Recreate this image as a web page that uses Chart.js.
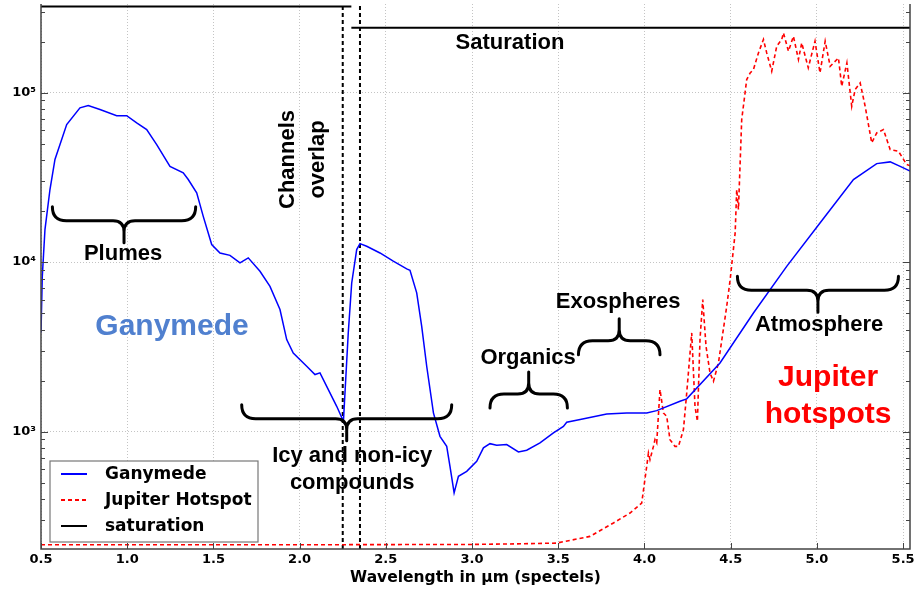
<!DOCTYPE html>
<html>
<head>
<meta charset="utf-8">
<script src="https://cdn.jsdelivr.net/npm/chart.js@4"></script>
<style>
  html, body { margin: 0; padding: 0; background: #fff; }
  #chart { display: block; }
</style>
</head>
<body>
<canvas id="chart" width="914" height="589"></canvas>
<script>
// wavelength (µm) / counts
const ganymedeX = [0.5, 0.5075, 0.523, 0.552, 0.581, 0.649, 0.726, 0.774, 0.842, 0.939, 0.997, 1.055, 1.113, 1.171, 1.248, 1.325, 1.354, 1.403, 1.441, 1.49, 1.538, 1.596, 1.654, 1.702, 1.77, 1.828, 1.886, 1.925, 1.963, 2.041, 2.089, 2.118, 2.157, 2.215, 2.254, 2.282, 2.302, 2.331, 2.35, 2.389, 2.466, 2.543, 2.621, 2.64, 2.679, 2.708, 2.737, 2.776, 2.814, 2.853, 2.872, 2.896, 2.921, 2.969, 3.027, 3.066, 3.104, 3.143, 3.201, 3.269, 3.317, 3.394, 3.472, 3.53, 3.549, 3.627, 3.781, 3.897, 4.013, 4.071, 4.206, 4.245, 4.438, 4.632, 4.825, 5.018, 5.212, 5.347, 5.425, 5.483, 5.541];
const ganymedeY = [3840, 8240, 15560, 26800, 40300, 64700, 81300, 83750, 79400, 73100, 73100, 66200, 60500, 49300, 36700, 33600, 30700, 25600, 18600, 12700, 11300, 10960, 9890, 10590, 8830, 7190, 5250, 3490, 2910, 2430, 2170, 2220, 1850, 1410, 1150, 3820, 7530, 11860, 12850, 12390, 11320, 10120, 9120, 8950, 6580, 4180, 2430, 1290, 938, 818, 624, 435, 545, 583, 668, 802, 849, 830, 838, 759, 776, 857, 982, 1074, 1135, 1178, 1271, 1288, 1288, 1330, 1510, 1560, 2540, 5010, 9440, 17020, 30700, 38100, 39000, 36700, 34400];

const hotspotX = [0.5, 2.0, 3.0, 3.3, 3.491, 3.684, 3.82, 3.916, 3.984, 4.013, 4.023, 4.032, 4.052, 4.061, 4.071, 4.09, 4.11, 4.129, 4.148, 4.177, 4.197, 4.226, 4.245, 4.274, 4.293, 4.307, 4.322, 4.338, 4.357, 4.38, 4.4, 4.429, 4.477, 4.497, 4.526, 4.535, 4.545, 4.564, 4.593, 4.613, 4.632, 4.661, 4.69, 4.709, 4.738, 4.767, 4.796, 4.806, 4.835, 4.864, 4.893, 4.912, 4.95, 4.989, 5.018, 5.048, 5.077, 5.125, 5.144, 5.174, 5.202, 5.222, 5.251, 5.28, 5.318, 5.347, 5.386, 5.425, 5.473, 5.521, 5.55];
const hotspotY = [215, 215, 216, 218, 220, 241, 289, 331, 379, 624, 748, 684, 818, 897, 857, 1770, 1288, 1230, 897, 818, 818, 1028, 1690, 3820, 1410, 1150, 3490, 6010, 3180, 2220, 1980, 2540, 5480, 7890, 14860, 26800, 20420, 69300, 119400, 130600, 136800, 171400, 205600, 171400, 133700, 187500, 205600, 224900, 175400, 214800, 156700, 196300, 140000, 200900, 130600, 200900, 142900, 160000, 108900, 149600, 83000, 104200, 114000, 83000, 50500, 57800, 60500, 46100, 45100, 37600, 36700];

const saturationX = [0.5, 2.3, 2.3, 2.3, 5.54];
const saturationY = [322000, 322000, null, 241000, 241000];

const overlapX = [2.25, 2.35];

const xRange = [0.5, 5.54];
const yRange = [203, 333000];
const xTicks = [0.5, 1.0, 1.5, 2.0, 2.5, 3.0, 3.5, 4.0, 4.5, 5.0, 5.5];
const yTicks = [1000, 10000, 100000];
const yTickLabels = ['10³', '10⁴', '10⁵'];

const seriesNames = ['Ganymede', 'Jupiter Hotspot', 'saturation'];

// braces: [x from, x to, y at the ends, direction (1 = tip down, -1 = tip up)]
const braces = [
    [0.566, 1.397, 21200, 1],
    [1.664, 2.882, 1440, 1],
    [3.104, 3.553, 1380, -1],
    [3.617, 4.09, 2840, -1],
    [4.539, 5.473, 8240, 1]
];
// labels: [text, x, y, colour, size, rotated]
const notes = [
    ['Plumes', 0.976, 11200, '#000', 22, false],
    ['Icy and non-icy', 2.305, 722, '#000', 22, false],
    ['compounds', 2.305, 500, '#000', 22, false],
    ['Organics', 3.325, 2730, '#000', 22, false],
    ['Exospheres', 3.847, 5850, '#000', 22, false],
    ['Atmosphere', 5.013, 4280, '#000', 22, false],
    ['Saturation', 3.22, 197000, '#000', 22, false],
    ['Channels', 1.933, 40300, '#000', 22, true],
    ['overlap', 2.107, 40300, '#000', 22, true],
    ['Ganymede', 1.26, 4160, '#5080cf', 30, false],
    ['Jupiter', 5.065, 2080, '#ff0000', 30, false],
    ['hotspots', 5.065, 1260, '#ff0000', 30, false]
];

function pts(xs, ys) {
    return xs.map((x, i) => ({ x: x, y: ys[i] }));
}

const TEXT_FONT = '"Liberation Sans", Arial, sans-serif';
const TICK_FONT = '"DejaVu Sans", sans-serif';

const overlay = {
    id: 'overlay',
    afterDatasetsDraw(chart) {
        const { ctx, chartArea: a, scales } = chart;
        const x = scales.x, y = scales.y;
        ctx.save();
        // frame
        ctx.strokeStyle = '#444';
        ctx.lineWidth = 1.5;
        ctx.beginPath();
        ctx.moveTo(a.left, a.top);
        ctx.lineTo(a.left, a.bottom);
        ctx.lineTo(a.right, a.bottom);
        ctx.lineTo(a.right, a.top);
        ctx.stroke();

        // log minor ticks, inside both sides
        ctx.lineWidth = 1;
        ctx.beginPath();
        for (let d = 100; d < 1e6; d *= 10) {
            for (let m = 1; m < 10; m++) {
                const v = d * m;
                if (v < yRange[0] || v > yRange[1]) continue;
                const py = Math.round(y.getPixelForValue(v)) + 0.5;
                const len = m === 1 ? 7 : 4;
                ctx.moveTo(a.left, py); ctx.lineTo(a.left + len, py);
                ctx.moveTo(a.right, py); ctx.lineTo(a.right - len, py);
            }
        }
        xTicks.forEach(v => {
            const px = Math.round(x.getPixelForValue(v)) + 0.5;
            ctx.moveTo(px, a.bottom); ctx.lineTo(px, a.bottom - 6);
        });
        ctx.stroke();

        // braces
        ctx.strokeStyle = '#000';
        ctx.lineWidth = 3;
        ctx.lineCap = 'round';
        braces.forEach(b => {
            const x1 = x.getPixelForValue(b[0]);
            const x2 = x.getPixelForValue(b[1]);
            const y0 = y.getPixelForValue(b[2]);
            const s = b[3];
            const yb = y0 + s * 14;
            const tip = yb + s * 22;
            const xm = (x1 + x2) / 2;
            const r = 14, rc = 11;
            ctx.beginPath();
            ctx.moveTo(x1, y0);
            ctx.quadraticCurveTo(x1, yb, x1 + r, yb);
            ctx.lineTo(xm - rc, yb);
            ctx.quadraticCurveTo(xm, yb, xm, yb + s * rc);
            ctx.lineTo(xm, tip);
            ctx.moveTo(xm, yb + s * rc);
            ctx.quadraticCurveTo(xm, yb, xm + rc, yb);
            ctx.lineTo(x2 - r, yb);
            ctx.quadraticCurveTo(x2, yb, x2, y0);
            ctx.stroke();
        });

        // text notes
        ctx.textAlign = 'center';
        ctx.textBaseline = 'middle';
        notes.forEach(n => {
            const px = x.getPixelForValue(n[1]);
            const py = y.getPixelForValue(n[2]);
            ctx.fillStyle = n[3];
            ctx.font = 'bold ' + n[4] + 'px ' + TEXT_FONT;
            if (n[5]) {
                ctx.save();
                ctx.translate(px, py);
                ctx.rotate(-Math.PI / 2);
                ctx.fillText(n[0], 0, 0);
                ctx.restore();
            } else {
                ctx.fillText(n[0], px, py);
            }
        });

        // legend box, lower left of the plot
        const lx = a.left + 9, ly = a.bottom - 88, lw = 208, lh = 81;
        ctx.fillStyle = '#fff';
        ctx.fillRect(lx, ly, lw, lh);
        ctx.strokeStyle = '#777';
        ctx.lineWidth = 1.2;
        ctx.lineCap = 'butt';
        ctx.strokeRect(lx, ly, lw, lh);
        ctx.font = 'bold 17px ' + TICK_FONT;
        ctx.textAlign = 'left';
        ctx.fillStyle = '#000';
        chart.data.datasets.slice(0, 3).forEach((ds, i) => {
            const ry = ly + 13 + i * 26;
            ctx.strokeStyle = ds.borderColor;
            ctx.lineWidth = 2;
            ctx.setLineDash(ds.borderDash || []);
            ctx.beginPath();
            ctx.moveTo(lx + 11, ry);
            ctx.lineTo(lx + 37, ry);
            ctx.stroke();
            ctx.setLineDash([]);
            ctx.fillText(seriesNames[i], lx + 55, ry + 1);
        });
        ctx.restore();
    }
};

const overlapSets = overlapX.map(v => ({
    label: 'overlap',
    data: [{ x: v, y: yRange[0] }, { x: v, y: yRange[1] }],
    borderColor: '#000',
    borderWidth: 2,
    borderDash: [4, 3],
    pointRadius: 0
}));

new Chart(document.getElementById('chart'), {
    type: 'line',
    data: {
        datasets: [{
            label: seriesNames[0],
            data: pts(ganymedeX, ganymedeY),
            borderColor: '#0000ff',
            borderWidth: 1.5,
            pointRadius: 0,
            tension: 0
        }, {
            label: seriesNames[1],
            data: pts(hotspotX, hotspotY),
            borderColor: '#ff0000',
            borderWidth: 1.6,
            borderDash: [4, 3],
            pointRadius: 0,
            tension: 0
        }, {
            label: seriesNames[2],
            data: pts(saturationX, saturationY),
            borderColor: '#000',
            borderWidth: 2,
            pointRadius: 0,
            spanGaps: false
        }, ...overlapSets]
    },
    options: {
        responsive: false,
        animation: false,
        devicePixelRatio: 1,
        layout: { padding: { top: 4, right: 4, left: 0, bottom: 0 } },
        plugins: {
            legend: { display: false },
            tooltip: { enabled: false }
        },
        scales: {
            x: {
                type: 'linear',
                min: xRange[0],
                max: xRange[1],
                afterBuildTicks: scale => { scale.ticks = xTicks.map(v => ({ value: v })); },
                afterFit: scale => {
                    scale.height = 40;
                    scale.paddingLeft = 0;
                    scale.paddingRight = 0;
                },
                grid: { color: '#c4c4c4', lineWidth: 1, drawTicks: false },
                border: { display: false, dash: [1, 2] },
                ticks: {
                    padding: 3,
                    color: '#000',
                    font: { family: TICK_FONT, size: 13, weight: 'bold' },
                    maxRotation: 0,
                    callback: v => v.toFixed(1)
                },
                title: {
                    display: true,
                    text: 'Wavelength in µm (spectels)',
                    color: '#000',
                    font: { family: TICK_FONT, size: 15.5, weight: 'bold' },
                    padding: { top: 0, bottom: 2 }
                }
            },
            y: {
                type: 'logarithmic',
                min: yRange[0],
                max: yRange[1],
                afterBuildTicks: scale => { scale.ticks = yTicks.map(v => ({ value: v })); },
                afterFit: scale => {
                    scale.width = 41;
                    scale.paddingTop = 0;
                    scale.paddingBottom = 0;
                },
                grid: { color: '#c4c4c4', lineWidth: 1, drawTicks: false },
                border: { display: false, dash: [1, 2] },
                ticks: {
                    padding: 5,
                    color: '#000',
                    font: { family: TICK_FONT, size: 13, weight: 'bold' },
                    callback: v => yTickLabels[yTicks.indexOf(v)]
                }
            }
        }
    },
    plugins: [overlay]
});
</script>
</body>
</html>
